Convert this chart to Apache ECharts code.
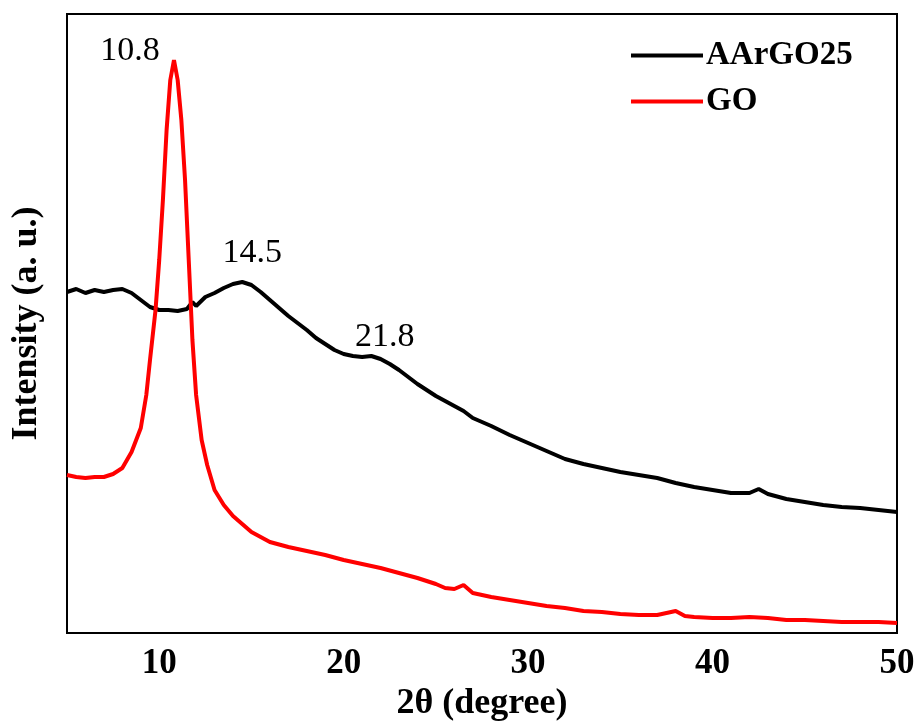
<!DOCTYPE html>
<html><head><meta charset="utf-8">
<script src="https://cdn.jsdelivr.net/npm/echarts@6/dist/echarts.min.js"></script>
<style>html,body{margin:0;padding:0;background:#fff}#c{width:918px;height:724px}</style>
</head><body><div id="c"></div>
<script>
const seriesNames = ['AArGO25', 'GO'];
const xTicks = [10, 20, 30, 40, 50];
const peakLabels = ['10.8', '14.5', '21.8'];
const aargoX = [5,5.5,6,6.5,7,7.5,8,8.5,9,9.5,10,10.5,11,11.5,11.8,12,12.5,13,13.5,14,14.5,15,15.5,16,16.5,17,17.5,18,18.5,19,19.5,20,20.5,21,21.5,22,22.5,23,23.5,24,24.5,25,25.5,26,26.5,27,27.5,28,29,30,31,32,33,34,35,36,37,38,39,40,41,42,42.5,43,44,45,46,47,48,49,50];
const aargoY = [341,344,340,343,341,343,344,340,333,326,323,323,322,324,331,327,336,340,345,349,351,348,341,333,325,317,310,303,295,289,283,279,277,276,277,274,269,263,256,249,243,237,232,227,222,215,211,207,198,190,182,174,169,165,161,158,155,150,146,143,140,140,144,139,134,131,128,126,125,123,121];
const goX = [5,5.5,6,6.5,7,7.5,8,8.5,9,9.3,9.5,9.8,10,10.2,10.4,10.6,10.8,11,11.2,11.4,11.6,11.8,12,12.3,12.6,13,13.5,14,14.5,15,15.5,16,17,18,19,20,21,22,23,24,25,25.5,26,26.5,27,28,29,30,31,32,33,34,35,36,37,38,38.5,39,40,41,42,43,44,45,46,47,48,49,50];
const goY = [158,156,155,156,156,159,165,181,205,238,273,323,373,433,503,553,573,553,513,453,373,293,238,193,168,143,128,117,109,101,96,91,86,82,78,73,69,65,60,55,49,45,44,48,40,36,33,30,27,25,22,21,19,18,18,22,17,16,15,15,16,15,13,13,12,11,11,11,10];
const peakCoords = [[10.8, 573], [14.5, 351], [21.8, 276]];
const peakOffsets = [[-44, -9], [10, -29], [8, -20]];

function zip(a, b) { return a.map((v, i) => [v, b[i]]); }
const serif = '"Liberation Serif","DejaVu Serif",serif';

const chart = echarts.init(document.getElementById('c'));
chart.setOption({
  animation: false,
  backgroundColor: '#fff',
  grid: { left: 67, right: 21, top: 14, bottom: 91, containLabel: false, outerBoundsMode: 'none',
          show: true, borderColor: '#000', borderWidth: 2, backgroundColor: 'transparent' },
  legend: {
    orient: 'vertical', left: 626, top: 34, itemWidth: 72, itemHeight: 4, itemGap: 13, icon: 'rect',
    data: seriesNames,
    textStyle: { fontFamily: serif, fontWeight: 'bold', fontSize: 33, color: '#000', padding: [0, 0, 0, -2] }
  },
  xAxis: {
    type: 'value', min: 5, max: 50, interval: 5,
    axisLine: { show: true, lineStyle: { color: '#000', width: 2 } },
    axisTick: { show: false }, splitLine: { show: false },
    axisLabel: {
      fontFamily: serif, fontWeight: 'bold', fontSize: 35, color: '#000', margin: 13,
      formatter: v => xTicks.includes(v) ? String(v) : ''
    },
    name: '2θ (degree)', nameLocation: 'middle', nameGap: 53,
    nameTextStyle: { fontFamily: serif, fontWeight: 'bold', fontSize: 36, color: '#000' }
  },
  yAxis: {
    type: 'value', min: 0, max: 619,
    axisLine: { show: true, lineStyle: { color: '#000', width: 2 } },
    axisTick: { show: false }, splitLine: { show: false }, axisLabel: { show: false },
    name: 'Intensity (a. u.)', nameLocation: 'middle', nameGap: 22, nameRotate: 90,
    nameTextStyle: { fontFamily: serif, fontWeight: 'bold', fontSize: 36, color: '#000' }
  },
  series: [
    {
      name: seriesNames[0], type: 'line', data: zip(aargoX, aargoY), showSymbol: false, symbol: 'none',
      lineStyle: { color: '#000', width: 4 }, itemStyle: { color: '#000' },
      markPoint: {
        symbol: 'circle', symbolSize: 0,
        label: { show: true, fontFamily: serif, fontSize: 34, color: '#000', formatter: p => p.name },
        data: [
          { name: peakLabels[1], coord: peakCoords[1], label: { offset: peakOffsets[1] } },
          { name: peakLabels[2], coord: peakCoords[2], label: { offset: peakOffsets[2] } }
        ]
      }
    },
    {
      name: seriesNames[1], type: 'line', data: zip(goX, goY), showSymbol: false, symbol: 'none',
      lineStyle: { color: '#ff0000', width: 4 }, itemStyle: { color: '#ff0000' },
      markPoint: {
        symbol: 'circle', symbolSize: 0,
        label: { show: true, fontFamily: serif, fontSize: 34, color: '#000', formatter: p => p.name },
        data: [
          { name: peakLabels[0], coord: peakCoords[0], label: { offset: peakOffsets[0] } }
        ]
      }
    }
  ]
});
</script></body></html>
